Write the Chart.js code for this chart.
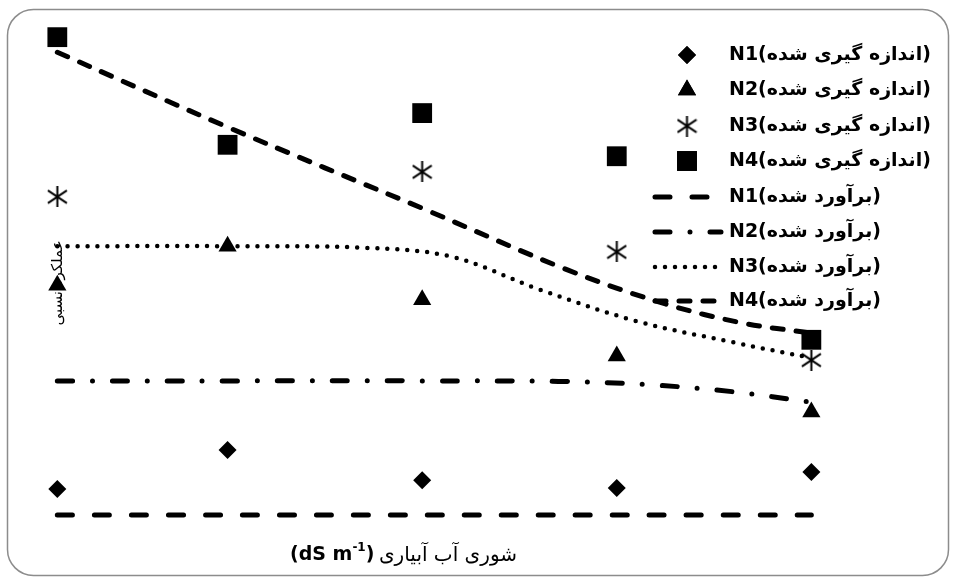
<!DOCTYPE html>
<html>
<head>
<meta charset="utf-8">
<script src="https://cdn.jsdelivr.net/npm/chart.js@4.4.0/dist/chart.umd.min.js"></script>
<style>
  html, body { margin: 0; padding: 0; background: #fff; }
  canvas { display: block; }
</style>
</head>
<body>
<canvas id="chart" width="956" height="583"></canvas>
<script>
// irrigation water salinity levels (dS/m)
const salinity = [0.25, 2, 4, 6, 8];

// measured relative yield
const n1Measured = [0.098, 0.173, 0.115, 0.100, 0.131];
const n2Measured = [0.490, 0.565, 0.462, 0.354, 0.246];
const n3Measured = [0.660, null, 0.708, 0.554, 0.346];
const n4Measured = [0.967, 0.760, 0.821, 0.738, 0.385];

// predicted curves
const n1PredX = [0.25, 8];
const n1PredY = [0.048, 0.048];
const n2PredX = [0.25, 2, 4, 5.4, 6.3, 7.2, 8];
const n2PredY = [0.306, 0.306, 0.306, 0.305, 0.299, 0.285, 0.265];
const n3PredX = [0.25, 2, 3.4, 4.3, 5.2, 6.2, 7.2, 8];
const n3PredY = [0.565, 0.565, 0.562, 0.545, 0.482, 0.421, 0.380, 0.350];
const n4PredX = [0.25, 2, 4, 5.5, 6.5, 7.3, 8];
const n4PredY = [0.938, 0.794, 0.638, 0.519, 0.454, 0.417, 0.398];

const measuredLabels = ["(اندازه گیری شده)N1", "(اندازه گیری شده)N2", "(اندازه گیری شده)N3", "(اندازه گیری شده)N4"];
const predictedLabels = ["(برآورد شده)N1", "(برآورد شده)N2", "(برآورد شده)N3", "(برآورد شده)N4"];

const xTitle = "شوری آب آبیاری";
const yTitle = "عملکرد نسبی";

function zip(xs, ys) {
  return xs.map((x, i) => ({ x: x, y: ys[i] }));
}

// six-spoke asterisk marker
function makeAsterisk(size) {
  const c = document.createElement("canvas");
  c.width = size; c.height = size;
  const g = c.getContext("2d");
  g.strokeStyle = "#000";
  g.lineWidth = 2;
  const m = size / 2;
  g.beginPath();
  g.moveTo(m, 0); g.lineTo(m, size);
  g.moveTo(1, size * 0.2); g.lineTo(size - 1, size * 0.8);
  g.moveTo(1, size * 0.8); g.lineTo(size - 1, size * 0.2);
  g.stroke();
  return c;
}
const asterisk = makeAsterisk(21);

const dashN1 = [15, 22];
const dashN2 = [15, 20, 0, 20];
const dashN3 = [0, 10];
const dashN4 = [11, 13];

function measured(data, style, radius) {
  return {
    data: zip(salinity, data),
    showLine: false,
    pointStyle: style,
    pointRadius: radius,
    pointBackgroundColor: "#000",
    pointBorderColor: "#000",
    pointBorderWidth: 0
  };
}
function predicted(xs, ys, dash, width) {
  return {
    data: zip(xs, ys),
    borderColor: "#000",
    borderWidth: width,
    borderDash: dash,
    borderCapStyle: "round",
    tension: 0.35,
    pointRadius: 0,
    fill: false
  };
}

const frame = {
  id: "frame",
  beforeDraw(chart) {
    const ctx = chart.ctx;
    ctx.save();
    ctx.fillStyle = "#fff";
    ctx.fillRect(0, 0, chart.width, chart.height);
    ctx.strokeStyle = "#8c8c8c";
    ctx.lineWidth = 1.5;
    ctx.beginPath();
    ctx.roundRect(7.5, 9.5, 941, 566, 26);
    ctx.stroke();
    ctx.restore();
  },
  afterDraw(chart) {
    const ctx = chart.ctx;
    ctx.save();
    ctx.fillStyle = "#000";
    ctx.textBaseline = "middle";

    // legend
    const rowY = [55, 90, 126, 161, 197, 232, 267, 301];
    const marks = [
      { style: "rectRot", r: 9 },
      { style: "triangle", r: 10.5 },
      { style: asterisk, r: 10 },
      { style: "rect", r: 14 }
    ];
    ctx.font = "bold 19px 'DejaVu Sans'";
    ctx.direction = "rtl";
    ctx.textAlign = "left";
    for (let i = 0; i < 4; i++) {
      const y = rowY[i];
      if (marks[i].style === asterisk) {
        ctx.drawImage(asterisk, 687 - 10.5, y - 10.5);
      } else {
        Chart.helpers.drawPoint(ctx, {
          pointStyle: marks[i].style, radius: marks[i].r, borderWidth: 0, rotation: 0
        }, 687, y);
        ctx.fillStyle = "#000";
        ctx.fill();
      }
      ctx.fillText(measuredLabels[i], 729, y);
    }
    const dashes = [dashN1, dashN2, dashN3, dashN4];
    const widths = [5, 5, 4.5, 5];
    const ends = [710, 721, 722, 726];
    for (let i = 0; i < 4; i++) {
      const y = rowY[i + 4];
      ctx.save();
      ctx.strokeStyle = "#000";
      ctx.lineWidth = widths[i];
      ctx.lineCap = "round";
      ctx.setLineDash(dashes[i]);
      ctx.beginPath();
      ctx.moveTo(655, y);
      ctx.lineTo(ends[i], y);
      ctx.stroke();
      ctx.restore();
      ctx.fillText(predictedLabels[i], 729, y);
    }

    // x title
    ctx.direction = "ltr";
    ctx.textAlign = "left";
    ctx.font = "bold 19px 'DejaVu Sans'";
    let x = 290;
    ctx.fillText("(dS m", x, 555);
    x += ctx.measureText("(dS m").width;
    ctx.font = "bold 12px 'DejaVu Sans'";
    ctx.fillText("-1", x, 548);
    x += ctx.measureText("-1").width;
    ctx.font = "bold 19px 'DejaVu Sans'";
    ctx.fillText(")", x, 555);
    ctx.font = "20px 'DejaVu Sans'";
    ctx.direction = "rtl";
    ctx.textAlign = "right";
    ctx.fillText(xTitle, 517, 556);

    // y title
    ctx.translate(58, 283);
    ctx.rotate(-Math.PI / 2);
    ctx.textAlign = "center";
    ctx.font = "15px 'DejaVu Sans'";
    ctx.fillText(yTitle, 0, 0);
    ctx.restore();
  }
};

new Chart(document.getElementById("chart"), {
  type: "line",
  data: {
    datasets: [
      measured(n1Measured, "rectRot", 9),
      measured(n2Measured, "triangle", 10.5),
      measured(n3Measured, asterisk, 10),
      measured(n4Measured, "rect", 14),
      predicted(n1PredX, n1PredY, dashN1, 5),
      predicted(n2PredX, n2PredY, dashN2, 5),
      predicted(n3PredX, n3PredY, dashN3, 4.5),
      predicted(n4PredX, n4PredY, dashN4, 5)
    ]
  },
  options: {
    responsive: false,
    animation: false,
    layout: { padding: { left: 33, right: 96, top: 20, bottom: 43 } },
    scales: {
      x: { type: "linear", min: 0, max: 8.5, display: false },
      y: { min: 0, max: 1, display: false }
    },
    plugins: {
      legend: { display: false },
      tooltip: { enabled: false }
    }
  },
  plugins: [frame]
});
</script>
</body>
</html>
